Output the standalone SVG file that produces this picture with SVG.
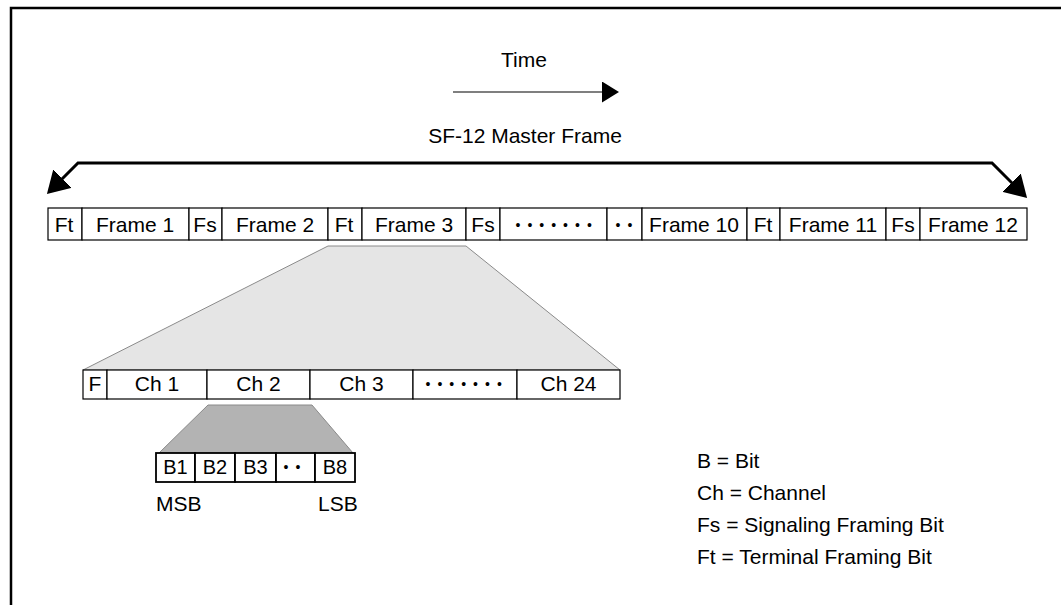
<svg xmlns="http://www.w3.org/2000/svg" width="1061" height="605" viewBox="0 0 1061 605">
  <style>
    .cell { fill: #ffffff; stroke: #000000; stroke-width: 1.2; }
    .bit { fill: #ffffff; stroke: #000000; stroke-width: 1.8; }
    .t { font-family: "Liberation Sans", Arial, sans-serif; font-size: 21px; fill: #000000; text-anchor: middle; }
    .tl { font-family: "Liberation Sans", Arial, sans-serif; font-size: 21px; fill: #000000; }
    .b { font-size: 20px; }
    .dots { font-family: "Liberation Sans", Arial, sans-serif; font-size: 14px; fill: #000000; letter-spacing: 7px; }
    .zoom-light { fill: #e5e5e5; stroke: #8a8a8a; stroke-width: 1; }
    .zoom-dark { fill: #b3b3b3; stroke: #8a8a8a; stroke-width: 1; }
  </style>
  <defs>
    <marker id="bighead" viewBox="0 0 22 26" refX="12" refY="13" markerWidth="22" markerHeight="26" markerUnits="userSpaceOnUse" orient="auto-start-reverse">
      <path d="M0,0 L22,13 L0,26 Z" fill="#000000"/>
    </marker>
    <marker id="smallhead" viewBox="0 0 17 21" refX="11" refY="10.5" markerWidth="17" markerHeight="21" markerUnits="userSpaceOnUse" orient="auto">
      <path d="M0,0 L17,10.5 L0,21 Z" fill="#000000"/>
    </marker>
  </defs>

  <rect x="0" y="0" width="1061" height="605" fill="#ffffff"/>
  <!-- page frame -->
  <path d="M11,605 V8 H1061" fill="none" stroke="#000000" stroke-width="2.5"/>

  <!-- time direction -->
  <g id="time">
    <text class="t" x="524" y="67">Time</text>
    <path d="M453,92 H613" stroke="#000000" stroke-width="1.2" fill="none" marker-end="url(#smallhead)"/>
  </g>

  <g id="connectors">
    <!-- master frame span -->
    <path d="M54,187 L78,163 L992,163 L1020,191" fill="none" stroke="#000000" stroke-width="3" stroke-linejoin="miter" marker-start="url(#bighead)" marker-end="url(#bighead)"/>
    <!-- Frame 3 expanded into channels -->
    <polygon class="zoom-light" points="328,246 466,246 620,370 83,370"/>
    <!-- Ch 2 expanded into bits -->
    <polygon class="zoom-dark" points="208,405 312,405 353,453 159,453"/>
  </g>

  <g id="master-frame-label">
    <text class="t" x="525" y="143">SF-12 Master Frame</text>
  </g>

  <!-- SF-12 master frame -->
  <g id="master-frame">
    <rect class="cell" x="48" y="208" width="34" height="32"/>
    <rect class="cell" x="82" y="208" width="107" height="32"/>
    <rect class="cell" x="189" y="208" width="33" height="32"/>
    <rect class="cell" x="222" y="208" width="106" height="32"/>
    <rect class="cell" x="328" y="208" width="34" height="32"/>
    <rect class="cell" x="362" y="208" width="104" height="32"/>
    <rect class="cell" x="466" y="208" width="34" height="32"/>
    <rect class="cell" x="500" y="208" width="107" height="32"/>
    <rect class="cell" x="607" y="208" width="35" height="32"/>
    <rect class="cell" x="642" y="208" width="105" height="32"/>
    <rect class="cell" x="747" y="208" width="33" height="32"/>
    <rect class="cell" x="780" y="208" width="106" height="32"/>
    <rect class="cell" x="886" y="208" width="34" height="32"/>
    <rect class="cell" x="920" y="208" width="107" height="32"/>
    <text class="t" x="64" y="232">Ft</text>
    <text class="t" x="135" y="232">Frame 1</text>
    <text class="t" x="205" y="232">Fs</text>
    <text class="t" x="275" y="232">Frame 2</text>
    <text class="t" x="344" y="232">Ft</text>
    <text class="t" x="414" y="232">Frame 3</text>
    <text class="t" x="483" y="232">Fs</text>
    <text class="dots" x="515.5" y="230">•••••••</text>
    <text class="dots" x="615.5" y="230">••</text>
    <text class="t" x="694" y="232">Frame 10</text>
    <text class="t" x="763" y="232">Ft</text>
    <text class="t" x="833" y="232">Frame 11</text>
    <text class="t" x="903" y="232">Fs</text>
    <text class="t" x="973" y="232">Frame 12</text>
  </g>

  <!-- one frame: 24 channels -->
  <g id="frame-channels">
    <rect class="cell" x="83" y="370" width="24" height="29"/>
    <rect class="cell" x="107" y="370" width="100" height="29"/>
    <rect class="cell" x="207" y="370" width="103" height="29"/>
    <rect class="cell" x="310" y="370" width="103" height="29"/>
    <rect class="cell" x="413" y="370" width="104" height="29"/>
    <rect class="cell" x="517" y="370" width="103" height="29"/>
    <text class="t" x="95" y="391">F</text>
    <text class="t" x="157" y="391">Ch 1</text>
    <text class="t" x="258.5" y="391">Ch 2</text>
    <text class="t" x="361.5" y="391">Ch 3</text>
    <text class="dots" x="425.5" y="389">•••••••</text>
    <text class="t" x="568.5" y="391">Ch 24</text>
  </g>

  <!-- one channel: 8 bits -->
  <g id="channel-bits">
    <rect class="bit" x="156" y="453" width="39" height="29"/>
    <rect class="bit" x="195" y="453" width="40" height="29"/>
    <rect class="bit" x="235" y="453" width="41" height="29"/>
    <rect class="bit" x="276" y="453" width="39" height="29"/>
    <rect class="bit" x="315" y="453" width="40" height="29"/>
    <text class="t b" x="175.5" y="474">B1</text>
    <text class="t b" x="215" y="474">B2</text>
    <text class="t b" x="255.5" y="474">B3</text>
    <text class="dots" x="283.5" y="472">••</text>
    <text class="t b" x="335" y="474">B8</text>
    <text class="tl" x="156" y="511">MSB</text>
    <text class="tl" x="318" y="511">LSB</text>
  </g>

  <!-- abbreviations -->
  <g id="legend">
    <text class="tl" x="697" y="468">B = Bit</text>
    <text class="tl" x="697" y="500">Ch = Channel</text>
    <text class="tl" x="697" y="532">Fs = Signaling Framing Bit</text>
    <text class="tl" x="697" y="564">Ft = Terminal Framing Bit</text>
  </g>
</svg>
